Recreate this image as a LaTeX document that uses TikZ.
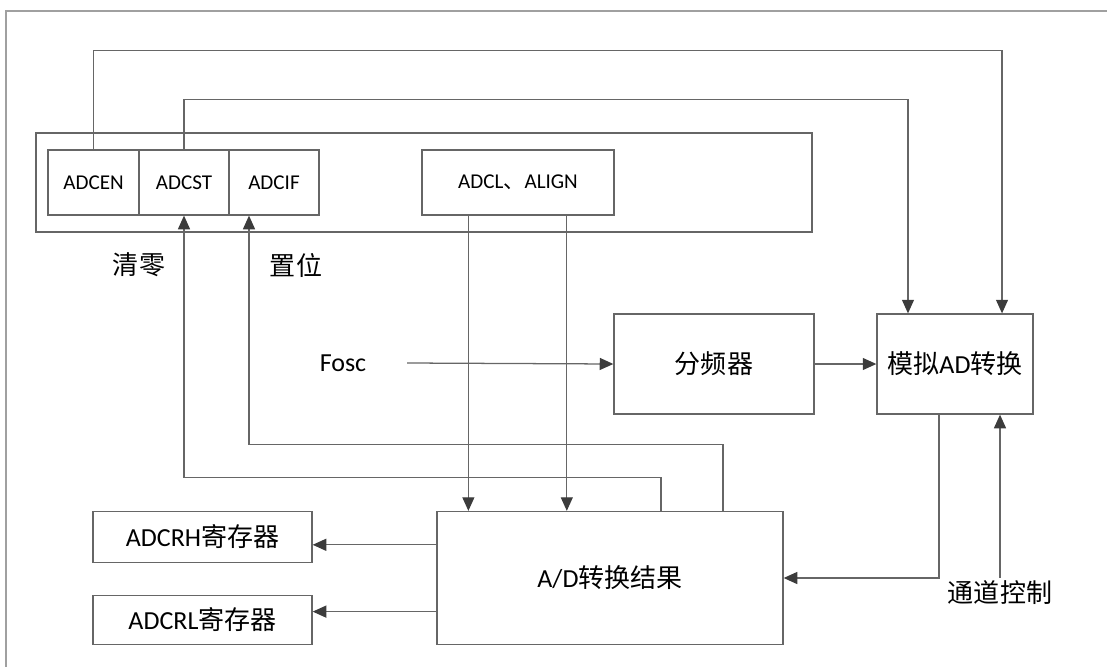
\documentclass[tikz,border=0pt]{standalone}
\usepackage{fontspec}
\setmainfont{Carlito}
\newfontfamily\cjk{Noto Sans CJK SC}
\usepackage{tikz}
\usetikzlibrary{arrows.meta,positioning,calc}
\definecolor{adline}{HTML}{666666}
\definecolor{adtip}{HTML}{3C3C3C}
\definecolor{adframe}{HTML}{A0A0A0}
\newcommand{\bigtxt}{\fontsize{18.5}{22}\selectfont}
\newcommand{\smalltxt}{\fontsize{15}{18}\selectfont}
\tikzset{
  adbox/.style={
    rectangle, draw=adline, fill=white, line width=0.9pt,
    inner sep=0pt, font=\bigtxt
  },
  adreg/.style={adbox, minimum height=1.625cm, font=\smalltxt},
  adgroup/.style={rectangle, draw=adline, line width=0.9pt, inner sep=0pt},
  adtext/.style={inner sep=2pt, font=\bigtxt},
  adedge/.style={-{Triangle[length=0.34cm,width=0.3cm,color=adtip]},draw=adline,line width=0.9pt},
  adwire/.style={draw=adline,line width=0.9pt},
  adouter/.style={draw=adframe,line width=1pt}
}

\begin{document}
\begin{tikzpicture}[x=0.025cm,y=-0.025cm]
\useasboundingbox (0,0) rectangle (1107,666);
\draw[adouter] (6,11) rectangle (1130,690);

% control register
\node[adgroup,minimum width=19.4cm,minimum height=2.475cm] (grp) at (424,182.5) {};
\node[adreg,minimum width=2.275cm] (en) at (93.5,182.5) {ADCEN};
\node[adreg,minimum width=2.25cm] (st) at (184,182.5) {ADCST};
\node[adreg,minimum width=2.25cm] (ifl) at (274,182.5) {ADCIF};
\node[adreg,minimum width=4.8cm] (align) at (518,182.5) {ADCL{\cjk 、}ALIGN};
\node[adtext] (clr) at (139,265) {\cjk 清零};
\node[adtext] (set) at (296,265) {\cjk 置位};

% converter blocks
\node[adtext] (fosc) at (343,363) {Fosc};
\coordinate (fin) at (407,363);
\node[adbox,minimum width=5cm,minimum height=2.5cm] (div) at (714,364) {\cjk 分频器};
\node[adbox,minimum width=3.9cm,minimum height=2.5cm] (ana) at (955,364) {{\cjk 模拟}AD{\cjk 转换}};
\node[adbox,minimum width=8.65cm,minimum height=3.325cm] (res) at (610,578) {A/D{\cjk 转换结果}};
\node[adbox,minimum width=5.475cm,minimum height=1.275cm] (rh) at (202.5,537) {ADCRH{\cjk 寄存器}};
\node[adbox,minimum width=5.475cm,minimum height=1.225cm] (rl) at (202.5,620) {ADCRL{\cjk 寄存器}};
\node[adtext] (chan) at (1000,593) {\cjk 通道控制};

% connectors
\draw[adedge] (en.north) -- ++(0,-99) -| ([xshift=1.175cm]ana.north);
\draw[adedge] (st.north) -- ++(0,-50) -| ([xshift=-1.175cm]ana.north);
\draw[adedge] ([xshift=-1.24cm]align.south) -- ([xshift=-1.24cm]align.south |- res.north);
\draw[adedge] ([xshift=1.22cm]align.south) -- ([xshift=1.22cm]align.south |- res.north);
\draw[adedge] (fin) -- (div.west);
\draw[adedge] (div.east) -- (ana.west);
\draw[adedge] ([xshift=-0.4cm]ana.south) |- (res.east);
\draw[adedge] (chan.north) -- (chan.north |- ana.south);
\draw[adedge] ([xshift=1.275cm]res.north) -- ++(0,-33) -| (st.south);
\draw[adedge] ([xshift=2.825cm]res.north) -- ++(0,-66) -| ([xshift=-0.625cm]ifl.south);
\draw[adedge] ([yshift=0.83cm]res.west) coordinate (oh) -- (oh -| rh.east);
\draw[adedge] ([yshift=-0.84cm]res.west) coordinate (ol) -- (ol -| rl.east);
\end{tikzpicture}
\end{document}
